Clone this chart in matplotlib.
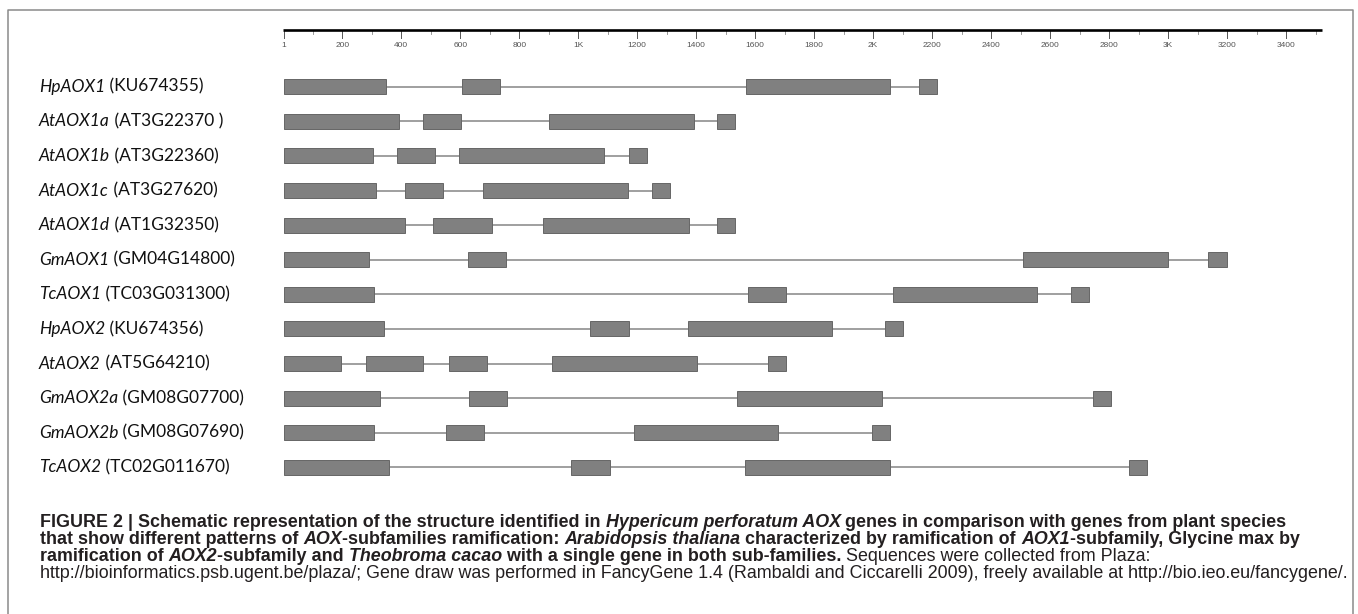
import matplotlib
matplotlib.use("Agg")
import matplotlib.pyplot as plt
from matplotlib.patches import Rectangle
from matplotlib.lines import Line2D

W, H = 1358, 614
DPI = 100

# ---------------- data ----------------
gene_names = ["HpAOX1", "AtAOX1a", "AtAOX1b", "AtAOX1c", "AtAOX1d", "GmAOX1",
              "TcAOX1", "HpAOX2", "AtAOX2", "GmAOX2a", "GmAOX2b", "TcAOX2"]
gene_ids = ["(KU674355)", "(AT3G22370 )", "(AT3G22360)", "(AT3G27620)", "(AT1G32350)",
            "(GM04G14800)", "(TC03G031300)", "(KU674356)", "(AT5G64210)",
            "(GM08G07700)", "(GM08G07690)", "(TC02G011670)"]

hp_aox1 = [(1, 349), (607, 736), (1568, 2057), (2155, 2216)]
at_aox1a = [(1, 391), (472, 602), (900, 1392), (1469, 1530)]
at_aox1b = [(1, 303), (386, 516), (596, 1087), (1171, 1233)]
at_aox1c = [(1, 316), (411, 541), (676, 1168), (1250, 1311)]
at_aox1d = [(1, 413), (508, 706), (882, 1375), (1469, 1530)]
gm_aox1 = [(1, 292), (625, 754), (2507, 2999), (3137, 3199)]
tc_aox1 = [(1, 307), (1575, 1704), (2066, 2555), (2672, 2733)]
hp_aox2 = [(1, 343), (1039, 1172), (1372, 1862), (2041, 2102)]
at_aox2 = [(1, 197), (282, 475), (561, 692), (912, 1402), (1642, 1704)]
gm_aox2a = [(1, 327), (628, 758), (1537, 2029), (2745, 2806)]
gm_aox2b = [(1, 307), (550, 680), (1189, 1679), (1996, 2057)]
tc_aox2 = [(1, 357), (977, 1107), (1565, 2057), (2867, 2928)]
exons = [hp_aox1, at_aox1a, at_aox1b, at_aox1c, at_aox1d, gm_aox1,
         tc_aox1, hp_aox2, at_aox2, gm_aox2a, gm_aox2b, tc_aox2]

scale_major = [1, 200, 400, 600, 800, 1000, 1200, 1400, 1600, 1800, 2000,
               2200, 2400, 2600, 2800, 3000, 3200, 3400]
scale_labels = ["1", "200", "400", "600", "800", "1K", "1200", "1400", "1600",
                "1800", "2K", "2200", "2400", "2600", "2800", "3K", "3200", "3400"]
scale_minor = [100, 300, 500, 700, 900, 1100, 1300, 1500, 1700, 1900, 2100,
               2300, 2500, 2700, 2900, 3100, 3300, 3500]
scale_end = 3521

# ---------------- figure ----------------
fig = plt.figure(figsize=(W / DPI, H / DPI), dpi=DPI)
fig.patch.set_facecolor("white")


def fx(x):
    return x / W


def fy(y):
    return 1 - y / H


# frame (open at the bottom)
fig.add_artist(Line2D([fx(8), fx(8), fx(1353), fx(1353)],
                      [fy(620), fy(10), fy(10), fy(620)],
                      transform=fig.transFigure, color="#8a8a8a", lw=1.1))

# gene axes: x in bp, y in row units
row0_px, row_step_px = 86.7, 34.6
top_px, bot_px = 20, 490
ax_left, ax_right = 283.3, 1321.7
ax = fig.add_axes([fx(ax_left), fy(bot_px), (ax_right - ax_left) / W, (bot_px - top_px) / H])
ax.set_xlim(0, scale_end)
ax.set_ylim((bot_px - row0_px) / row_step_px, (top_px - row0_px) / row_step_px)
ax.axis("off")

# ruler
ruler_y = (30.0 - row0_px) / row_step_px
ax.plot([0, scale_end], [ruler_y, ruler_y], color="black", lw=1.9,
        solid_capstyle="butt", clip_on=False, zorder=3)
maj_len = 8.3 / row_step_px
min_len = 4.0 / row_step_px
for v in scale_major:
    ax.plot([v, v], [ruler_y, ruler_y + maj_len], color="#555555", lw=0.7, clip_on=False)
for v in scale_minor:
    ax.plot([v, v], [ruler_y, ruler_y + min_len], color="#888888", lw=0.6, clip_on=False)
for v, lab in zip(scale_major, scale_labels):
    ax.text(v, (45.7 - row0_px) / row_step_px, lab, ha="center", va="center",
            fontsize=6, color="#555555", family="Liberation Sans")

# genes
box_h = 15 / row_step_px
for i, ex in enumerate(exons):
    ax.plot([ex[0][0], ex[-1][1]], [i, i], color="#858585", lw=1.1,
            solid_capstyle="butt", zorder=1)
    for s, e in ex:
        ax.add_patch(Rectangle((s, i - box_h / 2), e - s, box_h,
                               facecolor="#808080", edgecolor="#666666",
                               lw=0.7, zorder=2))

# gene labels (italic name + regular id)
renderer = fig.canvas.get_renderer()
label_x = 39
for i, (nm, gid) in enumerate(zip(gene_names, gene_ids)):
    t = ax.annotate(nm, xy=(fx(label_x), i), xycoords=("figure fraction", "data"),
                    ha="left", va="center", fontsize=12.5, fontstyle="italic",
                    family="Lato", color="#111111")
    w = t.get_window_extent(renderer).width
    ax.annotate(" " + gid, xy=(fx(label_x + w), i), xycoords=("figure fraction", "data"),
                ha="left", va="center", fontsize=12.5, family="Lato", color="#111111")

# caption (rich text runs)
cap_color = "#231f20"
cap_lines = [
    [("FIGURE 2 | Schematic representation of the structure identified in ", "bold", "normal"),
     ("Hypericum perforatum AOX", "bold", "italic"),
     (" genes in comparison with genes from plant species", "bold", "normal")],
    [("that show different patterns of ", "bold", "normal"),
     ("AOX", "bold", "italic"),
     ("-subfamilies ramification: ", "bold", "normal"),
     ("Arabidopsis thaliana", "bold", "italic"),
     (" characterized by ramification of ", "bold", "normal"),
     ("AOX1", "bold", "italic"),
     ("-subfamily, Glycine max by", "bold", "normal")],
    [("ramification of ", "bold", "normal"),
     ("AOX2", "bold", "italic"),
     ("-subfamily and ", "bold", "normal"),
     ("Theobroma cacao", "bold", "italic"),
     (" with a single gene in both sub-families.", "bold", "normal"),
     (" Sequences were collected from Plaza:", "normal", "normal")],
    [("http://bioinformatics.psb.ugent.be/plaza/; Gene draw was performed in FancyGene 1.4 "
      "(Rambaldi and Ciccarelli 2009), freely available at http://bio.ieo.eu/fancygene/.",
      "normal", "normal")],
]
cap_baselines = [527, 544, 561, 578]
cap_x = 40

# fit size so the last line spans the measured width
probe = fig.text(0, 0, cap_lines[3][0][0], fontsize=10, family="Liberation Sans")
pw = probe.get_window_extent(renderer).width
probe.remove()
cap_size = 10 * (1345 - cap_x) / pw

for runs, base in zip(cap_lines, cap_baselines):
    x = cap_x
    for s, wgt, sty in runs:
        t = fig.text(fx(x), fy(base), s, fontsize=cap_size, fontweight=wgt,
                     fontstyle=sty, family="Liberation Sans", color=cap_color,
                     ha="left", va="baseline")
        x += t.get_window_extent(renderer).width

fig.savefig("out.png", dpi=DPI, facecolor="white")
